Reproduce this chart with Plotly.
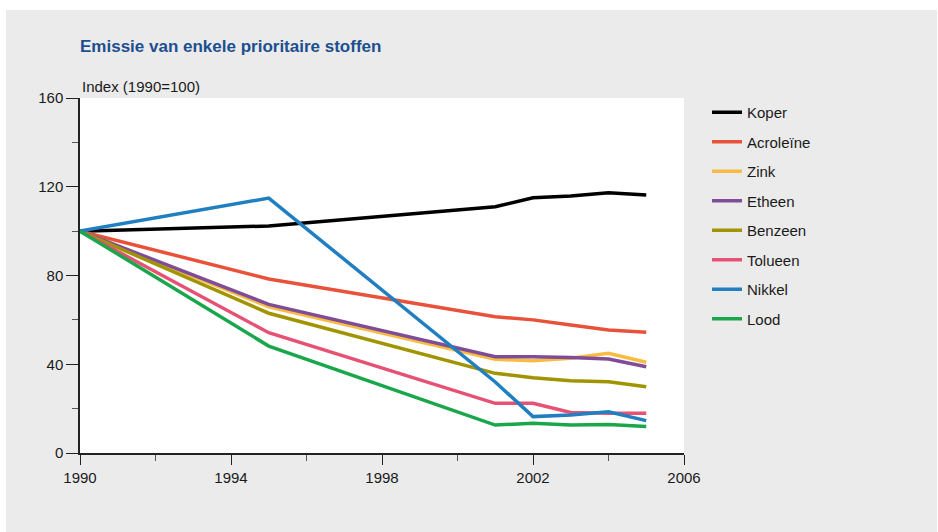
import plotly.graph_objects as go

years = [1990, 1995, 2001, 2002, 2003, 2004, 2005]

koper     = [100, 102.3, 111.0, 115.0, 115.8, 117.3, 116.3]
acroleine = [100, 78.4, 61.4, 60.0, 57.7, 55.4, 54.4]
zink      = [100, 65.9, 42.2, 41.6, 42.7, 44.9, 40.9]
etheen    = [100, 67.0, 43.4, 43.4, 43.0, 42.4, 38.9]
benzeen   = [100, 63.0, 35.9, 33.9, 32.6, 32.1, 29.9]
tolueen   = [100, 54.2, 22.4, 22.4, 18.3, 17.9, 17.9]
nikkel    = [100, 114.9, 32.0, 16.4, 17.1, 18.6, 14.6]
lood      = [100, 48.2, 12.6, 13.4, 12.6, 12.9, 11.9]

series_names = ["Koper", "Acroleïne", "Zink", "Etheen", "Benzeen", "Tolueen", "Nikkel", "Lood"]
series_values = [koper, acroleine, zink, etheen, benzeen, tolueen, nikkel, lood]
series_colors = ["#000000", "#e8523a", "#f9bb42", "#7f4c97", "#a09400", "#e65273", "#1f7fc1", "#1aa64a"]

x_ticks = [1990, 1994, 1998, 2002, 2006]
y_ticks = [0, 40, 80, 120, 160]

FONT = "Liberation Sans, Arial, sans-serif"
FS = 15

fig = go.Figure()
for name, vals, col in zip(series_names, series_values, series_colors):
    fig.add_trace(go.Scatter(
        x=years, y=vals, name=name, mode="lines",
        line=dict(color=col, width=3.5),
        legendgroup=name,
    ))

W, H = 938, 532
L, R, T, B = 80, 684, 98, 453
pw, ph = R - L, B - T

fig.update_layout(
    width=W, height=H,
    margin=dict(l=L, r=W - R, t=T, b=H - B),
    paper_bgcolor="#ebebeb",
    plot_bgcolor="#ffffff",
    font=dict(family=FONT, size=FS, color="#1a1a1a"),
    title=dict(
        text="<b>Emissie van enkele prioritaire stoffen</b>",
        font=dict(family=FONT, size=17, color="#1c4f8f"),
        x=L / W, xanchor="left", xref="container",
        y=1 - 46 / H, yanchor="middle", yref="container",
    ),
    xaxis=dict(
        range=[1990, 2006], tickvals=x_ticks, ticktext=[str(v) for v in x_ticks],
        showgrid=False, zeroline=False,
        showline=True, linecolor="#222222", linewidth=1.5,
        ticks="outside", ticklen=10, tickwidth=1.2, tickcolor="#222222",
        minor=dict(tickvals=[1992, 1996, 2000, 2004], ticks="outside", ticklen=6,
                   tickwidth=1.2, tickcolor="#555555"),
        tickfont=dict(size=FS, color="#1a1a1a"),
        fixedrange=True,
    ),
    yaxis=dict(
        range=[0, 160], tickvals=y_ticks, ticktext=[str(v) for v in y_ticks],
        showgrid=False, zeroline=False,
        showline=True, linecolor="#222222", linewidth=1.5,
        ticks="outside", ticklen=12, tickwidth=1.2, tickcolor="#222222",
        minor=dict(tickvals=[20, 60, 100, 140], ticks="outside", ticklen=6,
                   tickwidth=1.2, tickcolor="#555555"),
        tickfont=dict(size=FS, color="#1a1a1a"),
        fixedrange=True,
    ),
    legend=dict(
        x=(707 - L) / pw, xanchor="left",
        y=1 + (T - 96) / ph, yanchor="top",
        bgcolor="rgba(0,0,0,0)",
        font=dict(size=FS, color="#1a1a1a"),
        tracegroupgap=7,
        traceorder="grouped",
    ),
    showlegend=True,
    annotations=[
        dict(text="Index (1990=100)", xref="paper", yref="paper",
             x=0, y=1 + (T - 86) / ph, xanchor="left", yanchor="middle",
             showarrow=False, font=dict(size=FS, color="#1a1a1a")),
    ],
    shapes=[
        dict(type="rect", xref="paper", yref="paper", layer="above",
             x0=-L / pw - 0.01, x1=(6 - L) / pw, y0=-(H - B) / ph - 0.01, y1=1 + T / ph + 0.01,
             fillcolor="#ffffff", line=dict(width=0)),
        dict(type="rect", xref="paper", yref="paper", layer="above",
             x0=-L / pw - 0.01, x1=(W - L) / pw + 0.01, y0=1 + (T - 10) / ph, y1=1 + T / ph + 0.01,
             fillcolor="#ffffff", line=dict(width=0)),
        dict(type="rect", xref="paper", yref="paper", layer="above",
             x0=(937 - L) / pw, x1=(W - L) / pw + 0.01, y0=-(H - B) / ph - 0.01, y1=1 + T / ph + 0.01,
             fillcolor="#ffffff", line=dict(width=0)),
    ],
)

fig.write_html("out.html")
